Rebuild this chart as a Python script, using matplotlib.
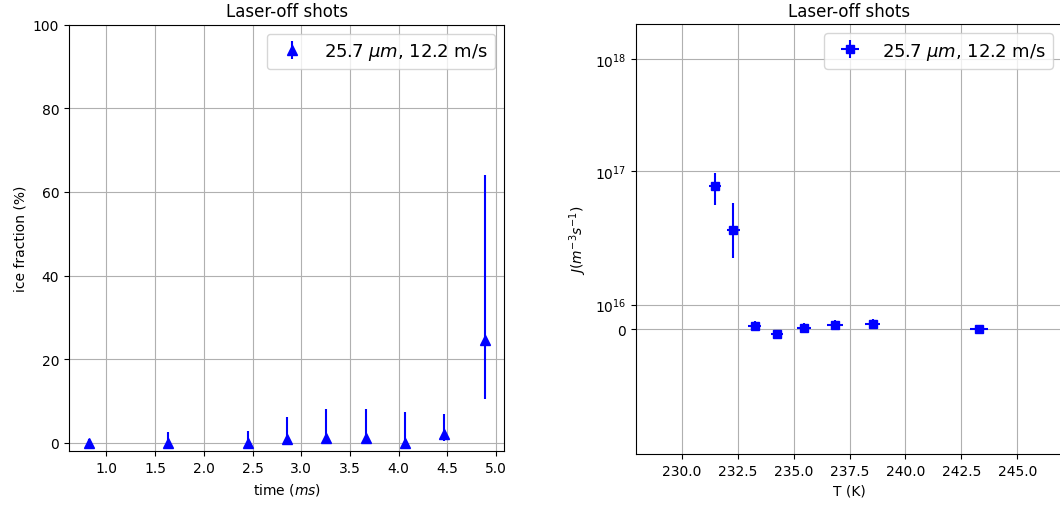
import matplotlib
matplotlib.use("Agg")
import matplotlib.pyplot as plt
from matplotlib.ticker import FixedLocator, NullLocator

# Left panel: ice fraction vs time
time_ms = [0.82, 1.63, 2.45, 2.85, 3.25, 3.66, 4.06, 4.46, 4.88]
ice_frac = [0.0, 0.0, 0.0, 0.9, 1.2, 1.2, 0.0, 2.2, 24.7]
ice_low = [0.0, 0.0, 0.0, 0.0, 0.0, 0.0, 0.0, 0.5, 10.6]
ice_high = [1.0, 2.6, 2.9, 6.2, 8.2, 8.2, 7.4, 6.8, 64.0]

# Right panel: nucleation rate vs temperature
temp_K = [231.49, 232.31, 233.27, 234.26, 235.48, 236.86, 238.54, 243.29]
temp_err = [0.27, 0.30, 0.29, 0.28, 0.31, 0.35, 0.34, 0.39]
J_rate = [7.3e16, 4.0e16, 1.4e15, -1.7e15, 0.4e15, 1.9e15, 2.0e15, 0.0]
J_err = [2.3e16, 1.15e16, 2.0e15, 1.5e15, 2.0e15, 2.0e15, 2.0e15, 0.5e15]

legend_label = r"25.7 $\mu m$, 12.2 m/s"
y_ticks_right = [0, 1e16, 1e17, 1e18]
y_ticklabels_right = ["0", r"$\mathdefault{10^{16}}$", r"$\mathdefault{10^{17}}$", r"$\mathdefault{10^{18}}$"]

W, H = 1060, 506
fig = plt.figure(figsize=(W / 100, H / 100), dpi=100)

ax1 = fig.add_axes([69 / W, (H - 452.3) / H, 435.3 / W, 426.6 / H])
yerr_left = [[v - lo for v, lo in zip(ice_frac, ice_low)],
             [hi - v for v, hi in zip(ice_frac, ice_high)]]
ax1.errorbar(time_ms, ice_frac, yerr=yerr_left, fmt='^', color='blue',
             ms=7, label=legend_label)
ax1.set_ylim(-2, 100)
ax1.set_xticks([1.0, 1.5, 2.0, 2.5, 3.0, 3.5, 4.0, 4.5, 5.0])
ax1.grid(True)
ax1.set_title("Laser-off shots", fontsize=12)
ax1.set_xlabel(r"time ($ms$)")
ax1.set_ylabel("ice fraction (%)")
ax1.legend(loc='upper right', fontsize=13)

ax2 = fig.add_axes([636 / W, (H - 455) / H, 426 / W, 429.7 / H])
ax2.errorbar(temp_K, J_rate, xerr=temp_err, yerr=J_err, fmt='s', color='blue',
             ms=6, label=legend_label)
ax2.set_yscale('symlog', linthresh=5e16)
ax2.set_ylim(-5e16, 2.04e18)
ax2.set_xlim(227.95, 247.0)
ax2.yaxis.set_major_locator(FixedLocator(y_ticks_right))
ax2.set_yticklabels(y_ticklabels_right)
ax2.yaxis.set_minor_locator(NullLocator())
ax2.set_xticks([230.0, 232.5, 235.0, 237.5, 240.0, 242.5, 245.0])
ax2.grid(True)
ax2.set_title("Laser-off shots", fontsize=12)
ax2.set_xlabel("T (K)")
ax2.set_ylabel(r"$J (m^{-3} s^{-1})$")
ax2.legend(loc='upper right', fontsize=13)

fig.savefig("out.png", dpi=100)
